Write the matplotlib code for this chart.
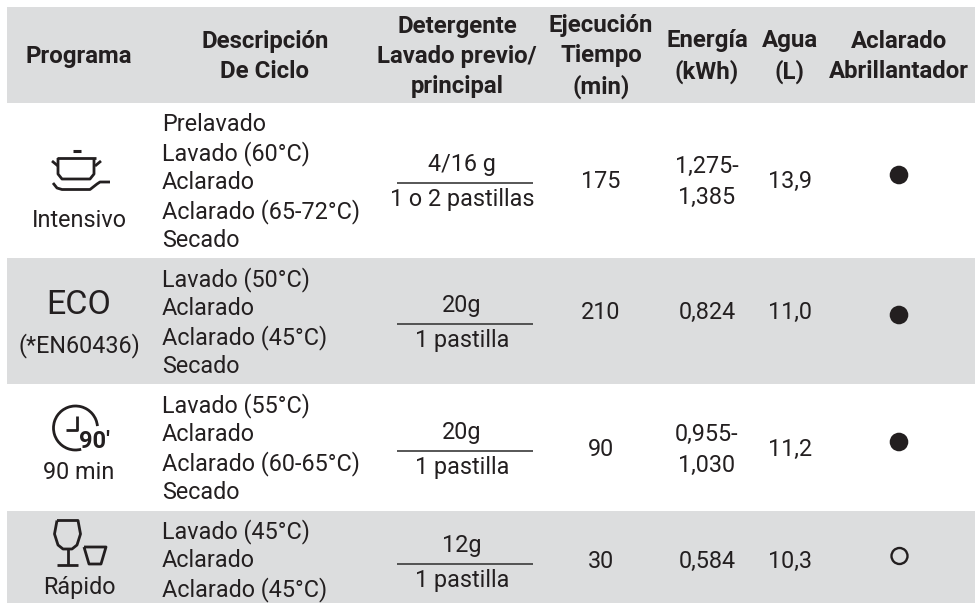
import numpy as np
import matplotlib
matplotlib.use("Agg")
import matplotlib.pyplot as plt
from matplotlib.patches import Rectangle, Circle, Arc

FONT = "Roboto"
INK = "#231f20"
GREY = "#dcddde"

headers = ["Programa", "Descripción\nDe Ciclo", "Detergente\nLavado previo/\nprincipal",
           "Ejecución\nTiempo\n(min)", "Energía\n(kWh)", "Agua\n(L)", "Aclarado\nAbrillantador"]
programs = ["Intensivo", "(*EN60436)", "90 min", "Rápido"]
cycles = [["Prelavado", "Lavado (60°C)", "Aclarado", "Aclarado (65-72°C)", "Secado"],
          ["Lavado (50°C)", "Aclarado", "Aclarado (45°C)", "Secado"],
          ["Lavado (55°C)", "Aclarado", "Aclarado (60-65°C)", "Secado"],
          ["Lavado (45°C)", "Aclarado", "Aclarado (45°C)"]]
det_top = ["4/16 g", "20g", "20g", "12g"]
det_bottom = ["1 o 2 pastillas", "1 pastilla", "1 pastilla", "1 pastilla"]
times = ["175", "210", "90", "30"]
energy = ["1,275-\n1,385", "0,824", "0,955-\n1,030", "0,584"]
water = ["13,9", "11,0", "11,2", "10,3"]
rinse = [True, True, True, False]

header_x = [79, 265, 457, 601, 707, 790, 899]
header_y = [56, 56, 56, 56, 56, 56, 56]
cycle_y0 = [124, 279, 405, 531]
prog_y = [220, 345, 472, 587]
det_line_y = [183, 324, 451, 564]
val_y = [181, 312, 449, 560.5]
dot_y = [175, 315, 442, 556]

fig = plt.figure(figsize=(9.75, 6.03), dpi=100)
ax = fig.add_axes([0, 0, 1, 1])
ax.set_xlim(0, 975)
ax.set_ylim(603, 0)
ax.axis("off")


def t(x, y, s, size=16.8, weight="normal", ha="center", lh=1.41):
    ax.text(x, y + 0.8, s, fontsize=size, fontweight=weight, ha=ha, va="center",
            color=INK, family=FONT, linespacing=lh)


# Bands
ax.add_patch(Rectangle((7, 7), 968, 96, fc=GREY, ec="none"))
ax.add_patch(Rectangle((7, 258), 968, 126, fc=GREY, ec="none"))
ax.add_patch(Rectangle((7, 511), 968, 92, fc=GREY, ec="none"))

for x, y, s in zip(header_x, header_y, headers):
    t(x, y, s, size=17.3, weight="bold", lh=1.385)

for i in range(4):
    t(79, prog_y[i], programs[i])
    for j, line in enumerate(cycles[i]):
        t(162, cycle_y0[i] + j * 28.9, line, ha="left")
    ly = det_line_y[i]
    ax.plot([397, 533], [ly, ly], color="#3a3a3a", lw=1.2, solid_capstyle="butt")
    t(462, ly - 19, det_top[i])
    t(462, ly + 16, det_bottom[i])
    t(601, val_y[i], times[i])
    t(707, val_y[i], energy[i])
    t(790, val_y[i], water[i])
    if rinse[i]:
        ax.add_patch(Circle((899, dot_y[i]), 9.3, fc=INK, ec="none"))
    else:
        ax.add_patch(Circle((899.5, dot_y[i]), 8, fc="none", ec=INK, lw=1.7))

ICON = dict(color=INK, lw=2.0, solid_capstyle="butt", solid_joinstyle="round")

# Pot icon (Intensivo)
ax.plot([73, 81], [151, 151], color=INK, lw=2.2, solid_capstyle="butt")
ax.plot([58, 58, 62, 90, 94, 94], [158, 174, 179, 179, 174, 158], **ICON)
ax.plot([57, 96], [158, 158], **ICON)
ax.plot([52, 58], [161, 166], **ICON)
ax.plot([101, 95], [161, 166], **ICON)
ax.plot([53, 57, 62, 90, 97, 100, 110], [183, 188, 189.5, 189.5, 184, 182, 182], **ICON)

# ECO wordmark
ax.text(79, 305, "ECO", fontsize=24.5, ha="center", va="center", color=INK, family=FONT)

# Clock icon (90 min)
ax.add_patch(Arc((75.5, 428), 44, 44, theta1=75, theta2=355, ec=INK, lw=2.0))
ax.plot([77, 77, 66], [416, 430, 430], **ICON)
ax.text(94, 442, "90′", fontsize=17, fontweight="bold", ha="center", va="center",
        color=INK, family=FONT)

# Glasses icon (Rápido)
ax.plot([57, 78, 80.5, 77, 72, 63, 58, 54.5, 57],
        [520.5, 520.5, 534, 545, 549, 549, 545, 534, 520.5], **ICON)
ax.plot([67.5, 67.5], [549, 565], **ICON)
ax.plot([57, 78], [565, 565], **ICON)
ax.plot([84, 106, 101, 89, 84], [547, 547, 564, 564, 547], **ICON)

fig.savefig("out.png", dpi=100)
